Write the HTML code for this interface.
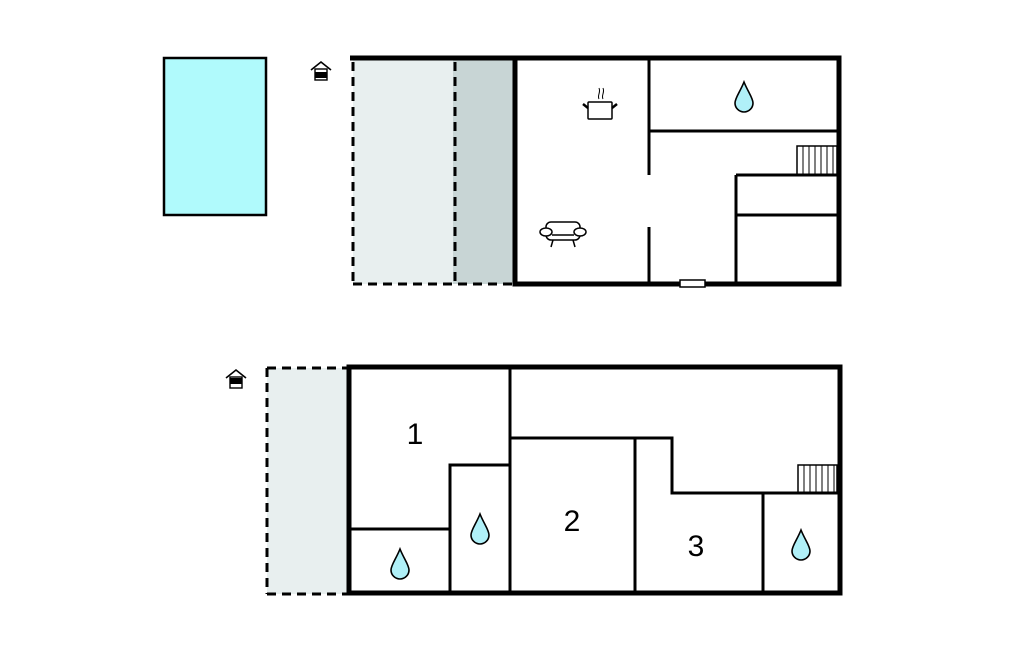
<!DOCTYPE html>
<html><head><meta charset="utf-8"><style>html,body{margin:0;padding:0;background:#fff}svg{display:block}</style></head>
<body>
<svg width="1024" height="652" viewBox="0 0 1024 652" xmlns="http://www.w3.org/2000/svg" font-family="Liberation Sans, sans-serif">
<defs>
<g id="drop"><path d="M0,-14 C4,-4 9,2 9,7 A9,9 0 0 1 -9,7 C-9,2 -4,-4 0,-14 Z" fill="#b0f0f8" stroke="#000" stroke-width="1.6"/></g>
<g id="house"><path d="M-10,-2 L0,-10 L10,-2" fill="none" stroke="#000" stroke-width="1.6"/><rect x="-6" y="-3" width="12" height="11" fill="#fff" stroke="#000" stroke-width="1.4"/></g>
</defs>
<rect x="164" y="58" width="102" height="157" fill="#b0fafc" stroke="#000" stroke-width="2.5"/>
<use href="#house" x="321" y="72"/><rect x="315" y="72" width="12" height="6" fill="#000"/>
<rect x="353" y="60" width="100" height="224" fill="#e8efef"/>
<rect x="453" y="60" width="62" height="224" fill="#c8d5d5"/>
<g stroke="#000" stroke-width="3" stroke-dasharray="9,6" fill="none">
<line x1="353" y1="62" x2="353" y2="284"/>
<line x1="455" y1="62" x2="455" y2="284"/>
<line x1="353" y1="284" x2="515" y2="284"/>
</g>
<line x1="350" y1="58" x2="515" y2="58" stroke="#000" stroke-width="5"/>
<rect x="515" y="58" width="324" height="226" fill="#fff" stroke="#000" stroke-width="5"/>
<g stroke="#000" stroke-width="3" fill="none">
<line x1="649" y1="58" x2="649" y2="175"/>
<line x1="649" y1="227" x2="649" y2="284"/>
<line x1="649" y1="131" x2="839" y2="131"/>
<line x1="736" y1="175" x2="736" y2="284"/>
<line x1="736" y1="175" x2="839" y2="175"/>
<line x1="736" y1="215" x2="839" y2="215"/>
<rect x="797" y="146" width="40" height="29" stroke-width="1.5"/>
</g>
<g stroke="#000" stroke-width="1">
<line x1="803" y1="146" x2="803" y2="175"/><line x1="809" y1="146" x2="809" y2="175"/><line x1="815" y1="146" x2="815" y2="175"/><line x1="821" y1="146" x2="821" y2="175"/><line x1="827" y1="146" x2="827" y2="175"/><line x1="833" y1="146" x2="833" y2="175"/>
</g>
<rect x="680" y="280" width="25" height="7" fill="#fff" stroke="#000" stroke-width="1.5"/>
<use href="#drop" x="744" y="96"/>
<g stroke="#000" fill="none" stroke-width="1.5">
<rect x="588" y="102" width="24" height="17" rx="1" fill="#fff"/>
<line x1="583" y1="104" x2="588" y2="108" stroke-width="2.5"/><line x1="617" y1="104" x2="612" y2="108" stroke-width="2.5"/>
<path d="M599,99 c-2,-4 2,-6 0,-11 M603,99 c-2,-4 2,-6 0,-11" stroke-width="1"/>
</g>
<g stroke="#000" fill="#fff" stroke-width="1.5">
<rect x="546" y="222" width="34" height="18" rx="5"/>
<ellipse cx="546" cy="232" rx="6" ry="4"/><ellipse cx="580" cy="232" rx="6" ry="4"/>
<line x1="552" y1="235" x2="574" y2="235"/>
<line x1="553" y1="240" x2="551" y2="247"/><line x1="573" y1="240" x2="575" y2="247"/>
</g>
<use href="#house" x="236" y="380"/><rect x="230" y="378" width="12" height="6" fill="#000"/>
<rect x="267" y="368" width="81" height="226" fill="#e8efef"/>
<g stroke="#000" stroke-width="3" stroke-dasharray="9,6" fill="none">
<line x1="267" y1="368" x2="348" y2="368"/>
<line x1="267" y1="368" x2="267" y2="594"/>
<line x1="267" y1="594" x2="348" y2="594"/>
</g>
<rect x="349" y="367" width="491" height="226" fill="#fff" stroke="#000" stroke-width="5"/>
<g stroke="#000" stroke-width="3" fill="none">
<line x1="510" y1="367" x2="510" y2="593"/>
<polyline points="510,438 672,438 672,493 840,493"/>
<line x1="635" y1="438" x2="635" y2="593"/>
<line x1="763" y1="493" x2="763" y2="593"/>
<polyline points="450,593 450,465 510,465"/>
<line x1="349" y1="529" x2="450" y2="529"/>
<rect x="798" y="465" width="39" height="28" stroke-width="1.5"/>
</g>
<g stroke="#000" stroke-width="1">
<line x1="804" y1="465" x2="804" y2="493"/><line x1="810" y1="465" x2="810" y2="493"/><line x1="816" y1="465" x2="816" y2="493"/><line x1="822" y1="465" x2="822" y2="493"/><line x1="828" y1="465" x2="828" y2="493"/><line x1="834" y1="465" x2="834" y2="493"/>
</g>
<use href="#drop" x="480" y="528"/>
<use href="#drop" x="400" y="563"/>
<use href="#drop" x="801" y="544"/>
<g font-size="30" text-anchor="middle" fill="#000">
<text x="415" y="444">1</text>
<text x="572" y="531">2</text>
<text x="696" y="556">3</text>
</g>
</svg>
</body></html>
